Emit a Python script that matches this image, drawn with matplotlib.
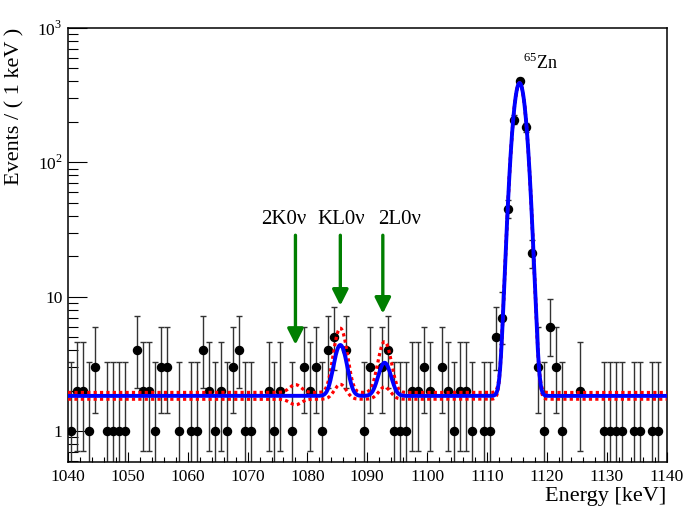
import numpy as np
import matplotlib
matplotlib.use("Agg")
import matplotlib.pyplot as plt
from matplotlib.ticker import MultipleLocator, LogLocator, FixedLocator, FixedFormatter, NullFormatter

plt.rcParams['font.family'] = ['Liberation Serif', 'DejaVu Serif']
plt.rcParams['mathtext.fontset'] = 'custom'
plt.rcParams['mathtext.rm'] = 'Liberation Serif'

# data: counts per 1 keV bin, bins start at 1040
bin_low = np.arange(1040, 1140)
counts = [1, 2, 2, 1, 3, 0, 1, 1, 1, 1,
          0, 4, 2, 2, 1, 3, 3, 0, 1, 0,
          1, 1, 4, 2, 1, 2, 1, 3, 4, 1,
          1, 0, 0, 2, 1, 2, 0, 1, 0, 3,
          2, 3, 1, 4, 5, 0, 4, 0, 0, 1,
          3, 0, 3, 4, 1, 1, 1, 2, 2, 3,
          2, 0, 3, 2, 1, 2, 2, 1, 0, 1,
          1, 5, 7, 45, 208, 400, 183, 21, 3, 1,
          6, 3, 1, 0, 0, 2, 0, 0, 0, 1,
          1, 1, 1, 0, 1, 1, 0, 1, 1, 0]

# fit curves: flat background + gaussian peaks (2K, KL, 2L, 65Zn)
peak_pos = [1078.0, 1085.5, 1092.9, 1115.45]
sigma = 0.95
bg_fit, amp_fit = 1.83, [0.0, 2.55, 1.4, 388.0]
bg_up, amp_up = 1.94, [0.28, 3.9, 2.7, 388.0]
bg_lo, amp_lo = 1.73, [-0.16, 0.5, 0.4, 388.0]

# signal arrows
arrow_x = [1078.0, 1085.5, 1092.6]
arrow_tip = [4.4, 8.6, 7.5]
arrow_tail = 28.7
label_x = [1076.0, 1085.7, 1095.4]
labels = ['2K0ν', 'KL0ν', '2L0ν']


def model(x, bg, amps):
    y = np.full_like(x, bg)
    for m, a in zip(peak_pos, amps):
        y += a * np.exp(-0.5 * ((x - m) / sigma) ** 2)
    return y


def poisson_err(n):
    # Wilson-Hilferty approx of the Garwood 68% interval
    n = np.asarray(n, float)
    lo = n * (1 - 1 / (9 * n) - 1 / (3 * np.sqrt(n))) ** 3
    n1 = n + 1
    hi = n1 * (1 - 1 / (9 * n1) + 1 / (3 * np.sqrt(n1))) ** 3
    return n - lo, hi - n


fig = plt.figure(figsize=(6.85, 5.08), dpi=100)
ax = fig.add_axes([0.0993, 0.0906, 0.8737, 0.8543])

counts = np.array(counts)
mask = counts > 0
xc = bin_low[mask] + 0.5
yc = counts[mask]
elo, ehi = poisson_err(yc)
ax.errorbar(xc, yc, yerr=[elo, ehi], fmt='o', color='black', ms=5.8,
            ecolor='#333333', elinewidth=1.0, capsize=2.2, capthick=1.0, zorder=2)

xs = np.linspace(1040, 1140, 2001)
ax.plot(xs, model(xs, bg_up, amp_up), color='red', lw=2.3, ls=(0, (1.0, 1.0)), zorder=3)
ax.plot(xs, model(xs, bg_lo, amp_lo), color='red', lw=2.3, ls=(0, (1.0, 1.0)), zorder=3)
ax.plot(xs, model(xs, bg_fit, amp_fit), color='blue', lw=2.8, zorder=4)

for x, tip, lab, lx in zip(arrow_x, arrow_tip, labels, label_x):
    ax.annotate('', xy=(x, tip), xytext=(x, arrow_tail),
                arrowprops=dict(arrowstyle='-|>,head_length=0.95,head_width=0.48',
                                mutation_scale=10, color='#007f00', lw=2.4,
                                shrinkA=0, shrinkB=0))
    ax.text(lx, 34.8, lab, ha='center', va='baseline', fontsize=15)

ax.text(1116.0, 497, r'$^{65}$Zn', ha='left', va='baseline', fontsize=13)

ax.set_xlim(1040, 1140)
ax.set_yscale('log')
ax.set_ylim(0.59, 1000)

ax.xaxis.set_major_locator(MultipleLocator(10))
ax.xaxis.set_minor_locator(MultipleLocator(2))
ax.yaxis.set_major_locator(FixedLocator([1, 10, 100, 1000]))
ax.yaxis.set_major_formatter(FixedFormatter(['1', '10', r'$10^2$', r'$10^3$']))
ax.yaxis.set_minor_locator(LogLocator(base=10, subs=np.arange(2, 10)))
ax.yaxis.set_minor_formatter(NullFormatter())

ax.tick_params(axis='x', which='major', direction='in', length=7.2, width=0.8,
               labelsize=12.5, pad=5, top=False)
ax.tick_params(axis='x', which='minor', direction='in', length=3.6, width=0.8, top=False)
ax.tick_params(axis='y', which='major', direction='in', length=13.7, width=0.8,
               labelsize=12.5, pad=4, right=False)
ax.tick_params(axis='y', which='minor', direction='in', length=7.2, width=0.8, right=False)
for s in ax.spines.values():
    s.set_linewidth(1.1)

# axis titles placed like ROOT: flush right / flush top
fig.text(666 / 685, 1 - 501 / 508, 'Energy [keV]', fontsize=16, ha='right', va='baseline')
fig.text(15 / 685, 1 - 28 / 508, 'Events / ( 1 keV )', fontsize=16, rotation=90,
         ha='center', va='top')

fig.savefig('out.png', dpi=100)
